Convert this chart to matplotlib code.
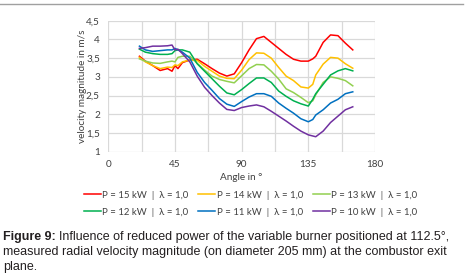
import matplotlib
matplotlib.use("Agg")
import matplotlib.pyplot as plt
from matplotlib.lines import Line2D
import numpy as np

angles = [21, 25, 30, 35, 40, 43, 45, 47, 50, 55, 60, 65, 70, 75, 80, 85, 90, 95, 100,
          105, 110, 115, 120, 125, 130, 135, 138, 140, 145, 150, 155, 160, 165]

p15 = [3.55, 3.42, 3.30, 3.17, 3.22, 3.15, 3.30, 3.22, 3.38, 3.45, 3.47, 3.35, 3.22, 3.10, 3.02, 3.08, 3.38,
       3.72, 4.02, 4.08, 3.92, 3.76, 3.60, 3.47, 3.42, 3.42, 3.48, 3.55, 3.92, 4.12, 4.10, 3.90, 3.72]
p14 = [3.52, 3.40, 3.30, 3.22, 3.26, 3.25, 3.32, 3.30, 3.40, 3.45, 3.44, 3.28, 3.15, 3.02, 2.96, 2.95, 3.18,
       3.46, 3.64, 3.63, 3.50, 3.25, 3.02, 2.90, 2.73, 2.70, 2.80, 3.05, 3.34, 3.52, 3.50, 3.35, 3.23]
p13 = [3.48, 3.42, 3.37, 3.36, 3.40, 3.42, 3.40, 3.52, 3.55, 3.55, 3.36, 3.18, 3.02, 2.93, 2.88, 2.84, 3.03,
       3.22, 3.33, 3.32, 3.15, 2.94, 2.68, 2.58, 2.45, 2.31, 2.36, 2.52, 2.85, 3.00, 2.96, 2.90, 2.76]
p12 = [3.74, 3.66, 3.62, 3.60, 3.60, 3.62, 3.70, 3.72, 3.72, 3.66, 3.35, 3.15, 2.95, 2.75, 2.57, 2.52, 2.66,
       2.82, 2.97, 2.97, 2.85, 2.62, 2.48, 2.36, 2.28, 2.22, 2.40, 2.55, 2.80, 3.05, 3.16, 3.22, 3.16]
p11 = [3.82, 3.72, 3.68, 3.70, 3.72, 3.72, 3.76, 3.72, 3.66, 3.50, 3.12, 2.85, 2.64, 2.42, 2.27, 2.21, 2.34,
       2.46, 2.55, 2.55, 2.48, 2.30, 2.16, 2.03, 1.88, 1.80, 1.86, 1.98, 2.12, 2.30, 2.40, 2.55, 2.60]
p10 = [3.76, 3.78, 3.82, 3.82, 3.83, 3.85, 3.72, 3.74, 3.62, 3.40, 3.02, 2.72, 2.50, 2.30, 2.13, 2.10, 2.18,
       2.22, 2.25, 2.20, 2.08, 1.95, 1.82, 1.68, 1.55, 1.45, 1.42, 1.40, 1.55, 1.78, 1.95, 2.12, 2.20]

series_labels = ["P = 15 kW  |  λ = 1,0", "P = 14 kW  |  λ = 1,0", "P = 13 kW  |  λ = 1,0",
                 "P = 12 kW  |  λ = 1,0", "P = 11 kW  |  λ = 1,0", "P = 10 kW  |  λ = 1,0"]
series = [p15, p14, p13, p12, p11, p10]
colors = ["#FF0000", "#FFC000", "#92D050", "#00B050", "#0070C0", "#7030A0"]

x_ticks = [0, 45, 90, 135, 180]
y_ticks = [1, 1.5, 2, 2.5, 3, 3.5, 4, 4.5]
y_tick_labels = ["1", "1,5", "2", "2,5", "3", "3,5", "4", "4,5"]

plt.rcParams['font.family'] = ['Lato', 'DejaVu Sans']

fig = plt.figure(figsize=(4.65, 2.79), dpi=100)
ax = fig.add_axes([108.3/465, 1-151.7/279, (375-108.3)/465, (151.7-20.7)/279])

lines = []
for vals, c, lab in zip(series, colors, series_labels):
    ln, = ax.plot(angles, vals, color=c, lw=1.1, label=lab)
    lines.append(ln)

ax.set_xlim(0, 180)
ax.set_ylim(1, 4.5)
ax.set_xticks(x_ticks)
ax.set_xticks(np.arange(0, 181, 22.5), minor=True)
ax.set_yticks(y_ticks)
ax.set_yticklabels(y_tick_labels)
ax.grid(True, which='both', color='#d9d9d9', lw=0.9)
ax.set_axisbelow(True)
for s in ax.spines.values():
    s.set_visible(False)
ax.tick_params(which='both', length=0, labelsize=7.2, colors='#404040', pad=6)
ax.set_xlabel("Angle in °", fontsize=7.2, color='#404040', labelpad=3)
ax.set_ylabel("velocity magnitude in m/s", fontsize=7.2, color='#404040', labelpad=-1)

order = [0, 3, 1, 4, 2, 5]
fig.legend([lines[i] for i in order], [series_labels[i] for i in order], ncol=3,
           loc='upper left', bbox_to_anchor=(75/465, 1-182/279), frameon=False,
           fontsize=6.9, handlelength=1.8, handletextpad=0.15, columnspacing=1.0,
           labelspacing=0.85, labelcolor='#404040')

# top frame rule
fig.add_artist(Line2D([0, 0.995], [1-4/279, 1-4/279], color='#a0a0a0', lw=1.0))

cap_kw = dict(fontsize=9.0, family=['Liberation Sans', 'DejaVu Sans'], color='#231f20', va='baseline')
t1 = fig.text(3/465, 1-240/279, "Figure 9:", fontweight='bold', **cap_kw)
fig.canvas.draw()
bb = t1.get_window_extent()
x_after = (bb.x1 + 3) / fig.bbox.width
fig.text(x_after, 1-240/279, "Influence of reduced power of the variable burner positioned at 112.5°,", **cap_kw)
fig.text(3/465, 1-255/279, "measured radial velocity magnitude (on diameter 205 mm) at the combustor exit", **cap_kw)
fig.text(3/465, 1-270/279, "plane.", **cap_kw)

fig.savefig("out.png", dpi=100)
